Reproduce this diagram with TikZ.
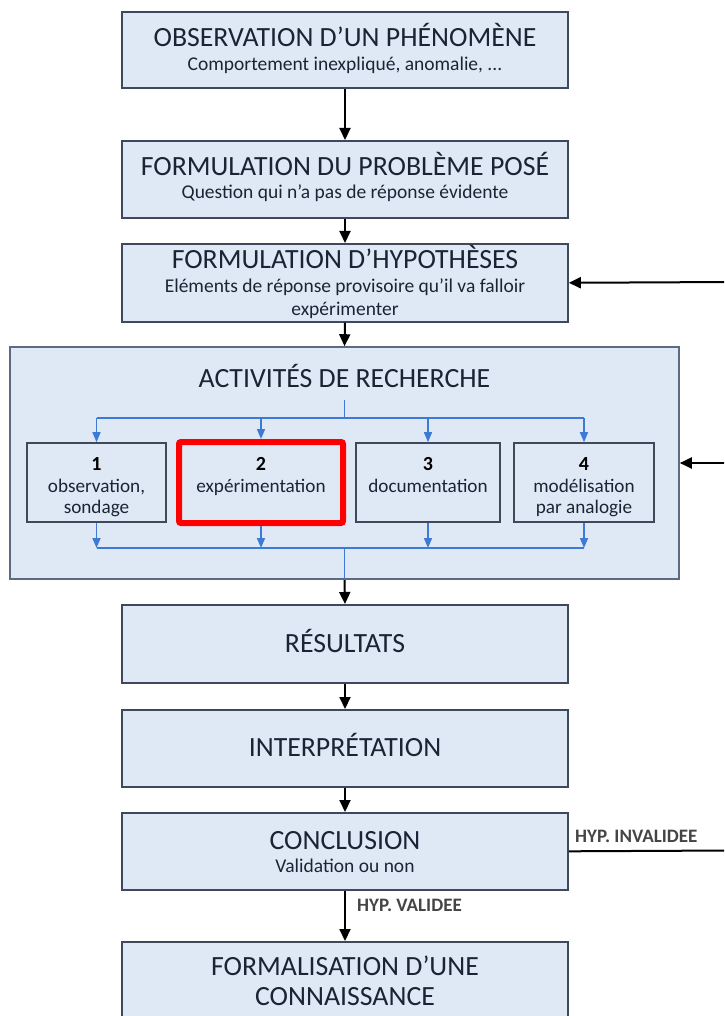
\documentclass[tikz,border=0pt]{standalone}
\usepackage{fontspec}
\setmainfont{Carlito}
\usetikzlibrary{arrows.meta}
\definecolor{boxfill}{HTML}{DFE9F6}
\definecolor{boxline}{HTML}{3E4A5A}
\definecolor{outerline}{HTML}{5C6B80}
\definecolor{txt}{HTML}{1A2434}
\definecolor{flow}{HTML}{3C7AD6}
\definecolor{hyp}{HTML}{454545}
\begin{document}
\begin{tikzpicture}[x=1pt,y=-1pt,
  box/.style={draw=boxline, line width=1.6pt, fill=boxfill, minimum width=446pt, inner sep=0pt, anchor=north},
  bigbox/.style={draw=outerline, line width=1.6pt, fill=boxfill, minimum width=669pt, minimum height=232pt, inner sep=0pt},
  subbox/.style={draw=boxline, line width=1.6pt, fill=boxfill, minimum height=79pt, inner sep=0pt},
  redbox/.style={draw=red, line width=6pt, fill=boxfill, rounded corners=2pt, minimum height=81pt, inner sep=0pt},
  title/.style={font=\fontsize{27.8}{31}\selectfont, text=txt, anchor=base, inner sep=0pt},
  sub/.style={font=\fontsize{19.5}{23}\selectfont, text=txt, anchor=base, inner sep=0pt},
  num/.style={font=\bfseries\fontsize{20}{22}\selectfont, text=black, anchor=base, inner sep=0pt},
  st/.style={font=\fontsize{19.2}{22}\selectfont, text=txt, anchor=base, inner sep=0pt},
  hyplabel/.style={font=\bfseries\fontsize{19}{21}\selectfont, text=hyp, anchor=base west, inner sep=0pt},
  mainarrow/.style={-{Triangle[width=11pt,length=12pt]}, line width=2pt, black},
  mainline/.style={line width=2pt, black},
  bluearrow/.style={-{Triangle[width=8pt,length=10pt]}, line width=1.5pt, flow},
  blueline/.style={line width=1.5pt, flow}
]
\useasboundingbox (0,0) rectangle (724,1016);
\clip (0,0) rectangle (724,1016);
\fill[white] (0,0) rectangle (724,1016);

% main boxes
\node[box, minimum height=76pt] (b1) at (345,11) {};
\node[box, minimum height=77pt] (b2) at (345,140) {};
\node[box, minimum height=78pt] (b3) at (345,243) {};
\node[bigbox] (big) at (344.5,463) {};
\node[box, minimum height=78pt] (res) at (345,604) {};
\node[box, minimum height=77pt] (int) at (345,709) {};
\node[box, minimum height=77pt] (con) at (345,812) {};
\node[box, minimum height=110pt] (form) at (345,941) {};

% sub boxes
\node[subbox, minimum width=139pt] (sb1) at (96.5,482.5) {};
\node[redbox, minimum width=164pt] (sb2) at (261,482.5) {};
\node[subbox, minimum width=144pt] (sb3) at (428,482.5) {};
\node[subbox, minimum width=140pt] (sb4) at (584,482.5) {};

% texts
\node[title] (b1a) at (345,47) {OBSERVATION D’UN PHÉNOMÈNE};
\node[sub] (b1b) at (345,71) {Comportement inexpliqué, anomalie, ...};
\node[title] (b2a) at (345,176) {FORMULATION DU PROBLÈME POSÉ};
\node[sub] (b2b) at (345,199) {Question qui n’a pas de réponse évidente};
\node[title] (b3a) at (345,268) {FORMULATION D’HYPOTHÈSES};
\node[sub] (b3b) at (345,292) {Eléments de réponse provisoire qu’il va falloir};
\node[sub] (b3c) at (345,315) {expérimenter};
\node[title] (biga) at (344.5,387) {ACTIVITÉS DE RECHERCHE};
\node[num] (n1) at (96.5,470) {1};
\node[st] (s1a) at (96.5,492) {observation,};
\node[st] (s1b) at (96.5,513) {sondage};
\node[num] (n2) at (261,470) {2};
\node[st] (s2a) at (261,492) {expérimentation};
\node[num] (n3) at (428,470) {3};
\node[st] (s3a) at (428,492) {documentation};
\node[num] (n4) at (584,470) {4};
\node[st] (s4a) at (584,492) {modélisation};
\node[st] (s4b) at (584,513) {par analogie};
\node[title] (resa) at (345,652) {RÉSULTATS};
\node[title] (inta) at (345,756) {INTERPRÉTATION};
\node[title] (cona) at (345,849) {CONCLUSION};
\node[sub] (conb) at (345,872) {Validation ou non};
\node[title] (forma) at (345,975) {FORMALISATION D’UNE};
\node[title] (formb) at (345,1005) {CONNAISSANCE};
\node[hyplabel] (hinv) at (575,842) {HYP. INVALIDEE};
\node[hyplabel] (hval) at (357,911) {HYP. VALIDEE};

% main connectors
\draw[mainarrow] (b1.south) -- (b2.north);
\draw[mainarrow] (b2.south) -- (b3.north);
\draw[mainarrow] (b3.south) -- (big.north);
\draw[mainarrow] (big.south) -- (res.north);
\draw[mainarrow] (res.south) -- (int.north);
\draw[mainarrow] (int.south) -- (con.north);
\draw[mainarrow] (con.south) -- (form.north);

% feedback from the right
\coordinate (r1) at (730,282);
\coordinate (r2) at (730,463);
\coordinate (r3) at (730,850.5);
\draw[mainarrow] (r1) -- (b3.east);
\draw[mainarrow] (r2) -- (big.east);
\draw[mainline] (con.east) -- (r3);

% blue distribution
\coordinate (ts) at (344.5,400);
\coordinate (th) at (344.5,418);
\coordinate (bh) at (344.5,548);
\draw[blueline] (ts) -- (th);
\draw[blueline] (sb1.north |- th) -- (sb4.north |- th);
\foreach \s in {sb1,sb2,sb3,sb4} {
  \draw[bluearrow] (\s.north |- th) -- (\s.north);
  \draw[bluearrow] (\s.south) -- (\s.south |- bh);
}
\draw[blueline] (sb1.south |- bh) -- (sb4.south |- bh);
\draw[blueline] (bh) -- (big.south);
\end{tikzpicture}
\end{document}
